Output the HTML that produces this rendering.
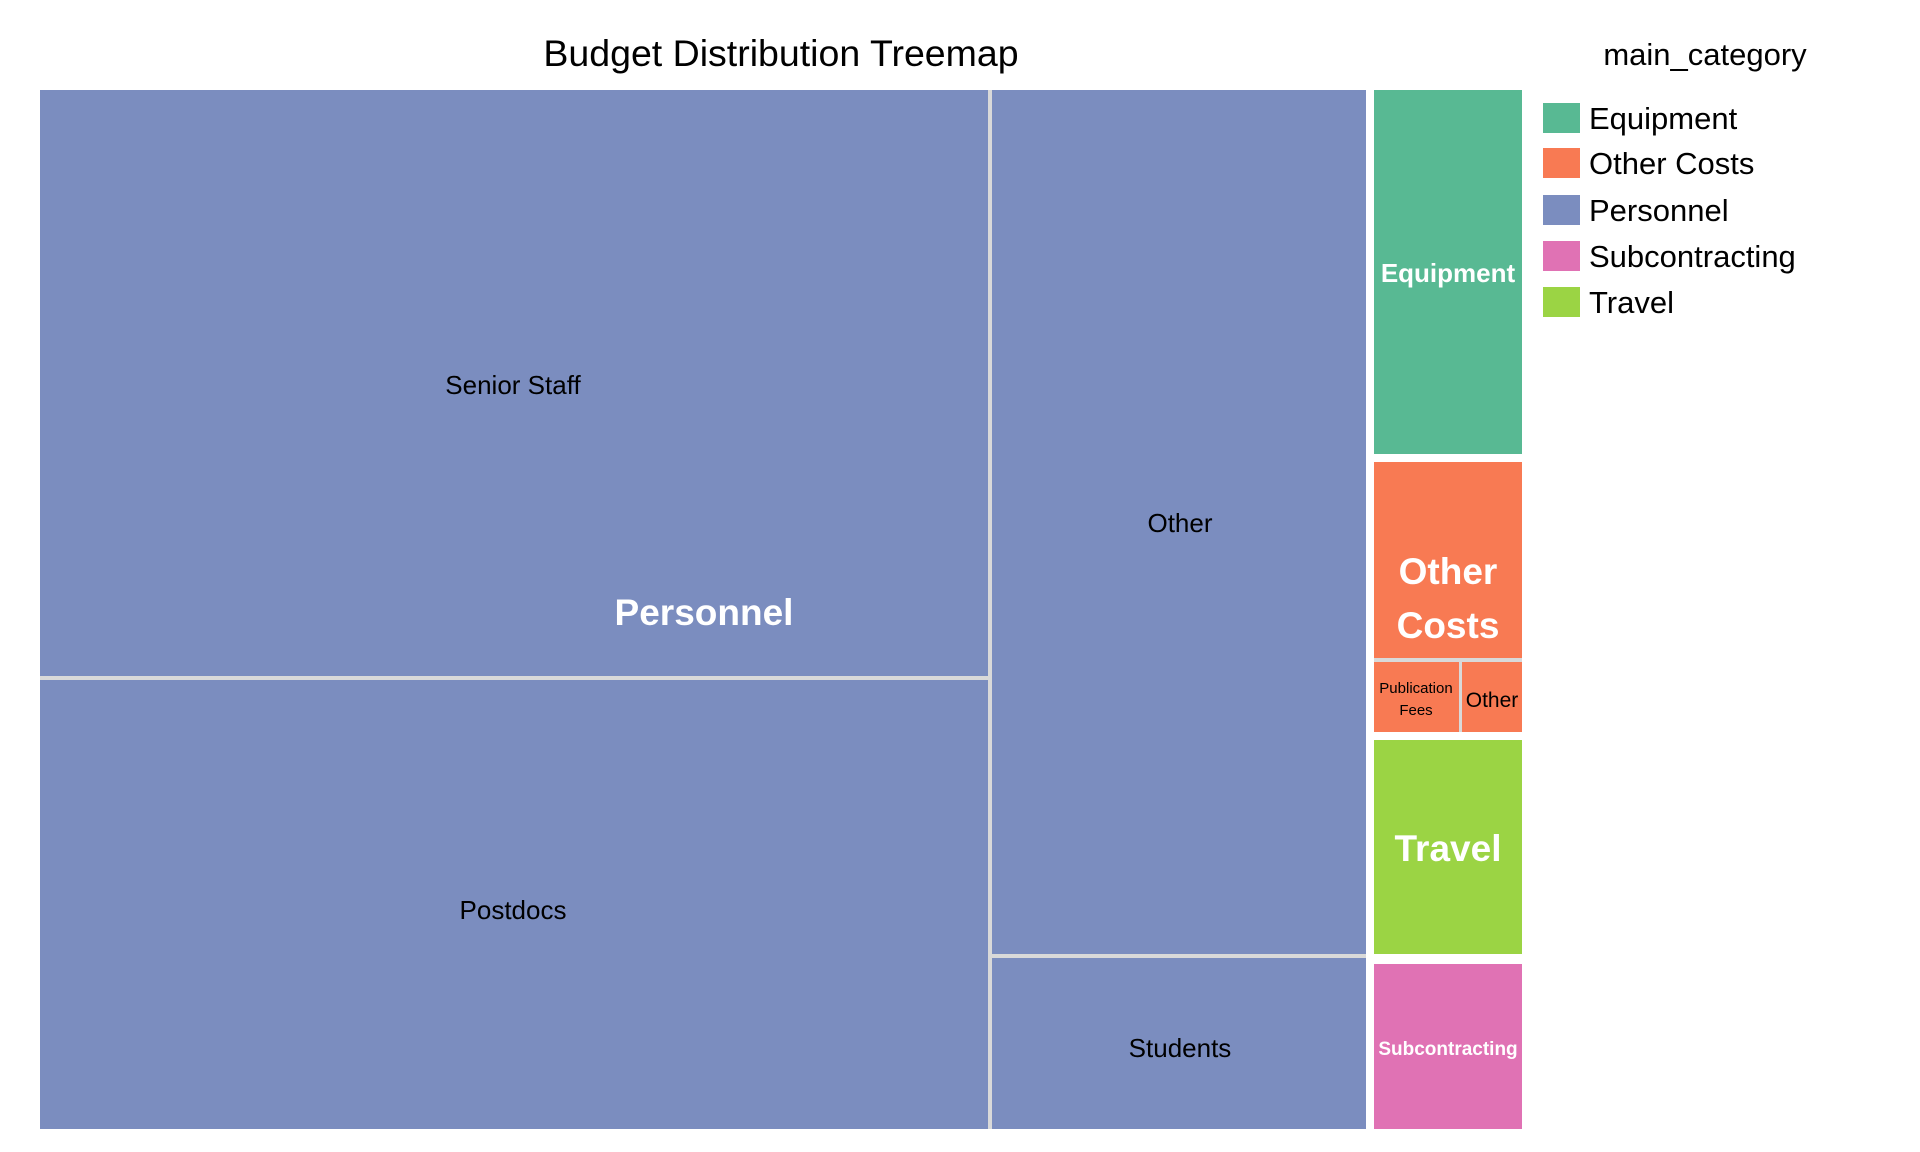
<!DOCTYPE html>
<html><head><meta charset="utf-8"><style>
html,body{margin:0;padding:0;background:#fff;}
svg{display:block;font-family:"Liberation Sans",Arial,sans-serif;}
</style></head><body>
<svg width="1920" height="1152" viewBox="0 0 1920 1152" xmlns="http://www.w3.org/2000/svg">
<rect width="1920" height="1152" fill="#fff"/>
<text x="781" y="66" font-size="37.5" text-anchor="middle" fill="#000">Budget Distribution Treemap</text>
<!-- Personnel -->
<rect x="40" y="90" width="1326" height="1039" fill="#7b8dbf"/>
<rect x="40" y="676" width="950" height="4" fill="#d9d9d9"/>
<rect x="988" y="90" width="4" height="1039" fill="#d9d9d9"/>
<rect x="990" y="954" width="376" height="4" fill="#d9d9d9"/>
<text x="513" y="394" font-size="26" text-anchor="middle" fill="#000">Senior Staff</text>
<text x="513" y="919" font-size="26" text-anchor="middle" fill="#000">Postdocs</text>
<text x="1180" y="532" font-size="26" text-anchor="middle" fill="#000">Other</text>
<text x="1180" y="1057" font-size="26" text-anchor="middle" fill="#000">Students</text>
<text x="704" y="625" font-size="37" font-weight="bold" text-anchor="middle" fill="#fff">Personnel</text>
<!-- Equipment -->
<rect x="1374" y="90" width="148" height="364" fill="#58b993"/>
<text x="1448" y="282" font-size="26" font-weight="bold" text-anchor="middle" fill="#fff">Equipment</text>
<!-- Other Costs -->
<rect x="1374" y="462" width="148" height="270" fill="#f87a53"/>
<rect x="1374" y="658" width="148" height="4" fill="#d9d9d9"/>
<rect x="1459" y="660" width="3" height="72" fill="#d9d9d9"/>
<text x="1448" y="584" font-size="37" font-weight="bold" text-anchor="middle" fill="#fff">Other</text>
<text x="1448" y="638" font-size="37" font-weight="bold" text-anchor="middle" fill="#fff">Costs</text>
<text x="1416" y="693" font-size="15" text-anchor="middle" fill="#000">Publication</text>
<text x="1416" y="715" font-size="15" text-anchor="middle" fill="#000">Fees</text>
<text x="1492" y="707" font-size="21" text-anchor="middle" fill="#000">Other</text>
<!-- Travel -->
<rect x="1374" y="740" width="148" height="214" fill="#9bd444"/>
<text x="1448" y="861" font-size="37" font-weight="bold" text-anchor="middle" fill="#fff">Travel</text>
<!-- Subcontracting -->
<rect x="1374" y="964" width="148" height="165" fill="#e072b4"/>
<text x="1448" y="1055" font-size="19" font-weight="bold" text-anchor="middle" fill="#fff">Subcontracting</text>
<!-- Legend -->
<text x="1705" y="65" font-size="31" text-anchor="middle" fill="#000">main_category</text>
<g font-size="31" fill="#000">
<rect x="1543" y="103" width="37" height="30" fill="#58b993"/><text x="1589" y="129">Equipment</text>
<rect x="1543" y="148" width="37" height="30" fill="#f87a53"/><text x="1589" y="174">Other Costs</text>
<rect x="1543" y="195" width="37" height="30" fill="#7b8dbf"/><text x="1589" y="221">Personnel</text>
<rect x="1543" y="241" width="37" height="30" fill="#e072b4"/><text x="1589" y="267">Subcontracting</text>
<rect x="1543" y="287" width="37" height="30" fill="#9bd444"/><text x="1589" y="313">Travel</text>
</g>
</svg>
</body></html>
